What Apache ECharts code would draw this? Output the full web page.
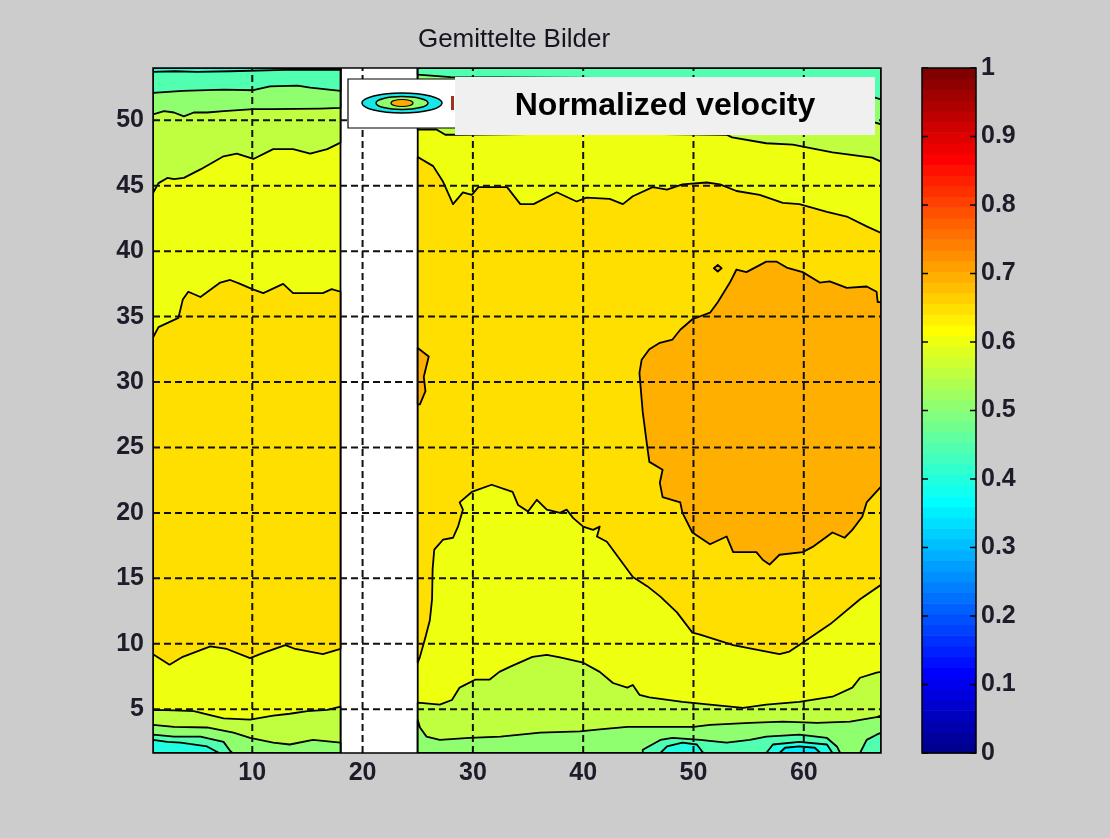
<!DOCTYPE html>
<html>
<head>
<meta charset="utf-8">
<script src="https://cdn.jsdelivr.net/npm/echarts@6/dist/echarts.min.js"></script>
<style>
  html, body { margin: 0; padding: 0; background: #cccccc; }
  #chart { width: 1110px; height: 838px; }
</style>
</head>
<body>
<div id="chart"></div>
<script>
// ---- axis ranges and ticks ----
const X_MIN = 1, X_MAX = 67;
const Y_MIN = 1.65, Y_MAX = 54;
const X_TICKS = [10, 20, 30, 40, 50, 60];
const Y_TICKS = [5, 10, 15, 20, 25, 30, 35, 40, 45, 50];
const CB_MIN = 0, CB_MAX = 1, CB_STEP = 0.1;
const CB_TICKS = [0, 0.1, 0.2, 0.3, 0.4, 0.5, 0.6, 0.7, 0.8, 0.9, 1];
// columns without measurements (blank strip)
const GAP_FROM = 18, GAP_TO = 25;

// ---- filled contour regions, [x, y] outlines in data units ----
// level 0.65 and above
const left065 = [[1,33.4],[1.5,34.2],[3.3,34.9],[3.7,36.3],[4.2,36.9],[5.3,36.5],[7.1,37.6],[8,37.8],[8.9,37.5],[10,37.1],[11,36.8],[12.8,37.5],[13.7,36.8],[16.4,36.8],[17.2,37.1],[18,36.9],[18,9.6],[16.4,9.2],[13.9,9.6],[13,9.9],[11,9.3],[9.8,8.9],[7.7,9.6],[6.2,9.8],[3.7,9.0],[2.5,8.4],[1,9.2]];
const right065 = [[25,47.2],[26.4,46.5],[27.3,45.3],[28.2,43.6],[29.1,44.5],[29.9,44.3],[30.5,44.9],[33.1,44.9],[34.3,43.6],[35.5,43.6],[37.6,44.5],[39.4,43.8],[40.3,44.1],[42.4,44.0],[43.6,43.6],[44.5,44.2],[46.3,44.9],[47.6,44.7],[49.0,45.1],[51.2,45.25],[52.4,45.1],[53.9,44.6],[56.0,44.3],[58.1,43.7],[59.6,43.6],[62.1,43.0],[63.9,42.65],[65.7,41.9],[67,41.4],[67,14.5],[65.1,13.4],[62.4,11.5],[60.3,10.3],[58.7,9.4],[57.8,9.2],[55.7,9.55],[53.6,9.9],[52.1,10.3],[50.6,10.7],[49.9,10.85],[48.5,12.4],[47.0,13.6],[45.8,14.4],[44.5,15.1],[42.15,17.8],[41.25,18.2],[41.5,18.95],[40.9,18.7],[40.0,18.95],[39.1,19.6],[38.5,20.25],[37.9,20.0],[36.7,20.25],[35.8,21.0],[35.0,20.1],[34.1,20.6],[33.6,21.6],[31.7,22.15],[29.9,21.6],[28.8,20.8],[29.1,20.25],[28.65,18.95],[28.2,18.1],[27.3,17.95],[26.5,17.2],[26.35,15.7],[26.3,13.4],[26.1,11.8],[25.7,10.5],[25.2,9.0],[25,8.55]];
// level 0.7 and above
const right070 = [[45.1,30.7],[45.4,27.7],[45.8,25.1],[46.0,23.9],[47.2,23.3],[46.95,22.3],[47.2,21.2],[48.8,20.8],[49.0,20.0],[49.9,18.5],[51.5,17.6],[53.0,18.2],[53.6,17.0],[55.7,17.0],[56.3,16.4],[56.9,16.05],[57.8,16.8],[59.9,17.0],[60.8,17.4],[62.6,18.5],[63.7,18.1],[64.4,18.7],[65.3,19.7],[65.7,20.8],[67,22.0],[67,36.1],[66.7,36.1],[66.6,36.9],[65.7,37.3],[63.9,37.2],[62.35,37.7],[61.45,37.6],[59.9,38.4],[58.45,38.75],[57.55,39.2],[56.6,39.2],[55.7,38.8],[54.8,38.4],[53.9,38.6],[53.3,37.6],[52.2,36.1],[51.5,35.3],[49.9,34.8],[48.8,34.0],[48.1,33.25],[46.95,33.0],[46.0,32.5],[45.3,31.7]];
const edge070 = [[25,32.6],[26.0,31.95],[25.55,30.4],[25.7,29.3],[25.2,28.3],[25,28.3]];
const spot070 = [[51.85,38.7],[52.2,38.95],[52.55,38.7],[52.2,38.45]];
// below 0.6
const left055top = [[1,54],[18,54],[18,48.3],[16.8,47.8],[15.25,47.45],[13.7,47.8],[11.9,47.8],[10.1,47.05],[8.6,47.45],[7.4,47.25],[5.3,46.25],[3.8,45.6],[2.9,45.5],[2.3,45.6],[1.5,45.2],[1,44.45]];
const right055top = [[25,54],[67,54],[67,46.85],[66.2,47.15],[62.6,47.55],[59,48.15],[56.6,48.25],[53.5,48.7],[53,48.9],[41.5,49.0],[28.4,48.9],[27.5,48.9],[26.7,49.3],[25,49.3]];
const left055bot = [[1,4.95],[2.9,4.9],[4.7,4.85],[5.9,4.6],[7.4,4.3],[9.8,4.2],[11.9,4.5],[13.4,4.65],[15,4.85],[16.8,4.95],[18,5.2],[18,1.65],[1,1.65]];
const right055bot = [[25,5.5],[27,5.35],[28.1,5.7],[28.8,6.65],[30.2,7.25],[31.5,7.25],[32.4,7.85],[33.4,8.25],[35.4,9.0],[36.7,9.15],[37.9,8.95],[40,8.55],[41.5,7.85],[42.7,7.0],[44,6.65],[44.5,6.85],[45.1,6.1],[46,5.9],[49,5.55],[51.5,5.35],[54.5,5.1],[56.6,5.35],[59.6,5.55],[62.6,5.95],[64.4,6.65],[65.1,7.4],[66.6,7.8],[67,7.85],[67,1.65],[25,1.65]];
// below 0.55
const left050top = [[1,54],[18,54],[18,50.95],[16.2,50.9],[11.9,50.85],[10.1,50.85],[7.4,50.7],[5.9,50.6],[4.7,50.6],[3.8,50.3],[2.9,50.6],[2,50.7],[1,50.45]];
const right050top = [[25,54],[67,54],[67,49.7],[65,50.2],[59.6,50.8],[50.6,51.6],[28.4,52.0],[27,52.2],[25,52.5]];
const left050bot = [[1,3.8],[2.9,3.65],[5.9,3.6],[8.3,3.2],[9.8,2.8],[11.9,2.45],[13.4,2.3],[15.5,2.65],[18,2.45],[18,1.65],[1,1.65]];
const right050bot = [[25,4.2],[25.2,3.6],[25.8,2.9],[27,2.65],[29.7,2.8],[32.5,2.9],[36.1,3.2],[39.7,3.3],[41.5,3.45],[44,3.65],[47.6,3.65],[50,3.65],[51.5,3.8],[55.1,3.95],[58.1,4.05],[61.2,3.95],[64.2,4.05],[66.6,4.4],[67,4.5],[67,1.65],[25,1.65]];
// below 0.5
const left045top = [[1,54],[18,54],[18,52.25],[15.25,52.5],[14.1,52.65],[11.6,52.6],[10.1,52.3],[7.4,52.35],[3.7,52.25],[1,52.1]];
const right045top = [[25,54],[67,54],[67,51.6],[65.4,52.0],[60,53.0],[50,53.2],[28,53.3],[25,53.5]];
const left045bot = [[1,3.05],[2.9,2.9],[5.3,2.9],[7.4,2.5],[8.0,1.8],[8.2,1.65],[1,1.65]];
const right045bot = [[45.4,1.65],[45.4,1.9],[47,2.65],[48.1,2.8],[50.6,2.65],[53,2.45],[55.1,2.65],[56.6,2.9],[59.6,3.05],[62.1,2.8],[63,2.15],[63.3,1.65]];
const right045corner = [[65.1,1.65],[65.7,2.65],[66.6,3.05],[67,3.2],[67,1.65]];
// below 0.45
const left040top = [[1,54],[18,54],[18,53.85],[13,53.85],[8,53.75],[5,53.7],[3,53.75],[1,53.7]];
const left040bot = [[1,2.65],[2.3,2.5],[3.5,2.45],[5.9,2.15],[7.0,1.65],[1,1.65]];
const right040a = [[47,1.65],[47.6,2.15],[49,2.45],[50.3,2.3],[50.8,1.75],[50.9,1.65]];
const right040b = [[56.6,1.65],[57.2,2.3],[59.6,2.5],[62.1,2.3],[62.6,1.65]];
// below 0.4
const right035 = [[57.8,1.65],[58.3,2.05],[59.6,2.15],[61,2.05],[61.5,1.65]];

// measured sections are filled with the 0.6 band first
const leftBase = [[X_MIN,Y_MIN],[GAP_FROM,Y_MIN],[GAP_FROM,Y_MAX],[X_MIN,Y_MAX]];
const rightBase = [[GAP_TO,Y_MIN],[X_MAX,Y_MIN],[X_MAX,Y_MAX],[GAP_TO,Y_MAX]];

// painter order: base, rising levels, then falling levels
const REGIONS = [
  { level: 0.6,  pts: leftBase },
  { level: 0.6,  pts: rightBase },
  { level: 0.65, pts: left065 },
  { level: 0.65, pts: right065 },
  { level: 0.7,  pts: right070 },
  { level: 0.7,  pts: edge070 },
  { level: 0.7,  pts: spot070 },
  { level: 0.55, pts: left055top },
  { level: 0.55, pts: right055top },
  { level: 0.55, pts: left055bot },
  { level: 0.55, pts: right055bot },
  { level: 0.5,  pts: left050top },
  { level: 0.5,  pts: right050top },
  { level: 0.5,  pts: left050bot },
  { level: 0.5,  pts: right050bot },
  { level: 0.45, pts: left045top },
  { level: 0.45, pts: right045top },
  { level: 0.45, pts: left045bot },
  { level: 0.45, pts: right045bot },
  { level: 0.45, pts: right045corner },
  { level: 0.4,  pts: left040top },
  { level: 0.4,  pts: left040bot },
  { level: 0.4,  pts: right040a },
  { level: 0.4,  pts: right040b },
  { level: 0.35, pts: right035 }
];

// 64-step jet colormap
const JET = [];
for (let i = 1; i <= 64; i++) {
  let r, g, b;
  if (i <= 8)       { r = 0; g = 0; b = (i + 8) / 16; }
  else if (i <= 24) { r = 0; g = (i - 8) / 16; b = 1; }
  else if (i <= 40) { r = (i - 24) / 16; g = 1; b = (40 - i) / 16; }
  else if (i <= 56) { r = 1; g = (56 - i) / 16; b = 0; }
  else              { r = (72 - i) / 16; g = 0; b = 0; }
  JET.push('rgb(' + Math.round(r * 255) + ',' + Math.round(g * 255) + ',' + Math.round(b * 255) + ')');
}
function levelColor(v) {
  const idx = Math.min(63, Math.max(0, Math.floor((v - CB_MIN) / (CB_MAX - CB_MIN) * 64 + 1e-9)));
  return JET[idx];
}

const FONT = '"Liberation Sans", Arial, Helvetica, sans-serif';
const TICK_LABEL = { color: '#1c1c2a', fontFamily: FONT, fontWeight: 'bold', fontSize: 25 };

const chart = echarts.init(document.getElementById('chart'), null, { renderer: 'canvas' });

const option = {
  backgroundColor: '#cccccc',
  animation: false,
  grid: [
    { left: 153, top: 68, width: 728, height: 685, show: true, backgroundColor: '#ffffff', borderWidth: 0 },
    { left: 922, top: 68, width: 54, height: 685, show: false }
  ],
  xAxis: [
    {
      gridIndex: 0, type: 'value', min: X_MIN, max: X_MAX,
      splitLine: { show: false },
      axisLine: { show: false },
      axisTick: { show: true, inside: true, length: 6, customValues: X_TICKS, lineStyle: { color: '#000', width: 1 } },
      axisLabel: { customValues: X_TICKS, margin: 8, ...TICK_LABEL }
    },
    { gridIndex: 1, type: 'value', min: 0, max: 1, show: false }
  ],
  yAxis: [
    {
      gridIndex: 0, type: 'value', min: Y_MIN, max: Y_MAX,
      splitLine: { show: false },
      axisLine: { show: false },
      axisTick: { show: true, inside: true, length: 6, customValues: Y_TICKS, lineStyle: { color: '#000', width: 1 } },
      axisLabel: { customValues: Y_TICKS, margin: 9, ...TICK_LABEL }
    },
    {
      gridIndex: 1, type: 'value', min: CB_MIN, max: CB_MAX, interval: CB_STEP, position: 'right',
      splitLine: { show: false },
      axisLine: { show: false },
      axisTick: { show: false },
      axisLabel: { margin: 5, ...TICK_LABEL }
    }
  ],
  series: [
    {
      // filled contour bands with their outlines
      type: 'custom', xAxisIndex: 0, yAxisIndex: 0, clip: true, z: 2,
      data: REGIONS.map(r => r.pts[0]),
      renderItem: (params, api) => {
        const r = REGIONS[params.dataIndex];
        return {
          type: 'polygon',
          shape: { points: r.pts.map(p => api.coord(p)) },
          style: { fill: levelColor(r.level), stroke: '#000', lineWidth: 1.8, lineJoin: 'round' }
        };
      }
    },
    {
      // dashed vertical grid lines
      type: 'custom', xAxisIndex: 0, yAxisIndex: 0, z: 3,
      data: X_TICKS.map(v => [v, Y_MIN]),
      renderItem: (params, api) => {
        const a = api.coord([api.value(0), Y_MIN]);
        const b = api.coord([api.value(0), Y_MAX]);
        return { type: 'line', shape: { x1: a[0], y1: a[1], x2: b[0], y2: b[1] },
          style: { stroke: '#111', lineWidth: 2, lineDash: [7, 4] } };
      }
    },
    {
      // dashed horizontal grid lines
      type: 'custom', xAxisIndex: 0, yAxisIndex: 0, z: 3,
      data: Y_TICKS.map(v => [X_MIN, v]),
      renderItem: (params, api) => {
        const a = api.coord([X_MIN, api.value(1)]);
        const b = api.coord([X_MAX, api.value(1)]);
        return { type: 'line', shape: { x1: a[0], y1: a[1], x2: b[0], y2: b[1] },
          style: { stroke: '#111', lineWidth: 2, lineDash: [7, 4] } };
      }
    },
    {
      // axes box
      type: 'custom', xAxisIndex: 0, yAxisIndex: 0, z: 4,
      data: [[X_MIN, Y_MIN]],
      renderItem: (params, api) => {
        const a = api.coord([X_MIN, Y_MAX]);
        const b = api.coord([X_MAX, Y_MIN]);
        return { type: 'rect', shape: { x: a[0], y: a[1], width: b[0] - a[0], height: b[1] - a[1] },
          style: { fill: 'none', stroke: '#000', lineWidth: 1.5 } };
      }
    },
    {
      // colour bar cells
      type: 'custom', xAxisIndex: 1, yAxisIndex: 1, z: 2,
      data: JET.map((c, i) => [0, CB_MIN + (CB_MAX - CB_MIN) * i / JET.length]),
      renderItem: (params, api) => {
        const i = params.dataIndex;
        const lo = CB_MIN + (CB_MAX - CB_MIN) * i / JET.length;
        const hi = CB_MIN + (CB_MAX - CB_MIN) * (i + 1) / JET.length;
        const a = api.coord([0, hi]);
        const b = api.coord([1, lo]);
        return { type: 'rect', shape: { x: a[0], y: a[1], width: b[0] - a[0], height: b[1] - a[1] + 0.6 },
          style: { fill: JET[i] } };
      }
    },
    {
      // colour bar frame and inward ticks on both sides
      type: 'custom', xAxisIndex: 1, yAxisIndex: 1, z: 4,
      data: [[0, CB_MIN]],
      renderItem: (params, api) => {
        const a = api.coord([0, CB_MAX]);
        const b = api.coord([1, CB_MIN]);
        const children = [{ type: 'rect', shape: { x: a[0], y: a[1], width: b[0] - a[0], height: b[1] - a[1] },
          style: { fill: 'none', stroke: '#000', lineWidth: 1.5 } }];
        CB_TICKS.forEach(v => {
          const y = api.coord([0, v])[1];
          children.push({ type: 'line', shape: { x1: a[0], y1: y, x2: a[0] + 6, y2: y }, style: { stroke: '#000', lineWidth: 1.5 } });
          children.push({ type: 'line', shape: { x1: b[0], y1: y, x2: b[0] - 6, y2: y }, style: { stroke: '#000', lineWidth: 1.5 } });
        });
        return { type: 'group', children };
      }
    }
  ],
  graphic: [
    { type: 'text', x: 514, y: 40, z: 10,
      style: { text: 'Gemittelte Bilder', fill: '#151520', font: '26px ' + FONT, textAlign: 'center', textVerticalAlign: 'middle' } },
    // legend box with contour icon
    { type: 'rect', z: 10, shape: { x: 348, y: 79, width: 110, height: 49 }, style: { fill: '#ffffff', stroke: '#000', lineWidth: 1.2 } },
    { type: 'ellipse', z: 11, shape: { cx: 402, cy: 103, rx: 40, ry: 10 }, style: { fill: '#19e6e6', stroke: '#000', lineWidth: 1.5 } },
    { type: 'ellipse', z: 11, shape: { cx: 402, cy: 103, rx: 26, ry: 6.5 }, style: { fill: '#8fff70', stroke: '#000', lineWidth: 1.5 } },
    { type: 'ellipse', z: 11, shape: { cx: 402, cy: 103, rx: 11, ry: 3.5 }, style: { fill: '#ffaa00', stroke: '#000', lineWidth: 1.2 } },
    { type: 'rect', z: 11, shape: { x: 451, y: 96, width: 3, height: 14 }, style: { fill: '#a03020' } },
    // caption box
    { type: 'rect', z: 12, shape: { x: 455, y: 77, width: 420, height: 58 }, style: { fill: '#f0f0f0' } },
    { type: 'text', z: 13, x: 665, y: 106,
      style: { text: 'Normalized velocity', fill: '#000', font: 'bold 32px ' + FONT, textAlign: 'center', textVerticalAlign: 'middle' } }
  ]
};

chart.setOption(option);
</script>
</body>
</html>
